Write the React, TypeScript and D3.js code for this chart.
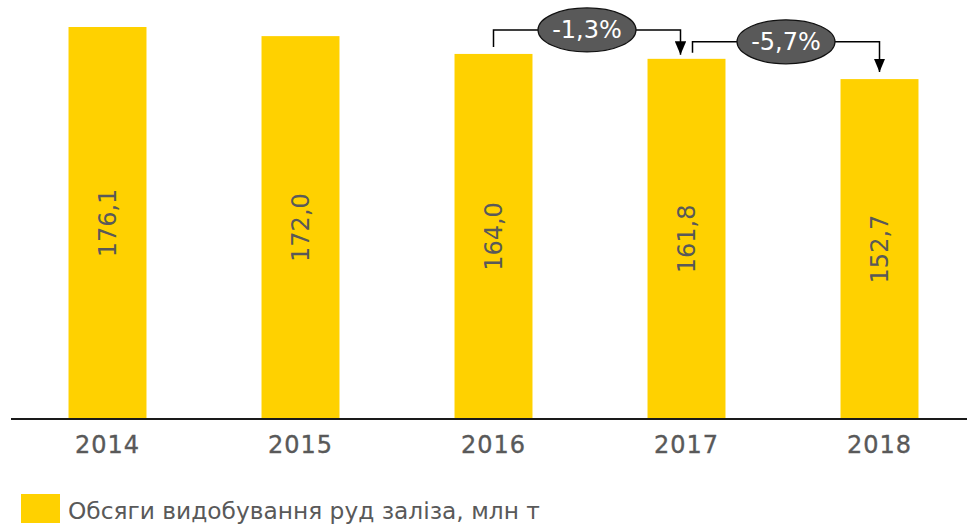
import React from 'react';
import * as d3 from 'd3';

// Обсяги видобування руд заліза, млн т
const years = ['2014', '2015', '2016', '2017', '2018'];
const volumes = [176.1, 172.0, 164.0, 161.8, 152.7];
const changes = [
  { from: '2016', to: '2017', label: '-1,3%' },
  { from: '2017', to: '2018', label: '-5,7%' },
];
const legendLabel = 'Обсяги видобування руд заліза, млн т';

const W = 967;
const H = 525;
const baseY = 419;
const FONT = '"DejaVu Sans", Verdana, sans-serif';
const GREY = '#595959';
const YELLOW = '#FFD100';

const fmt = (v: number) => v.toFixed(1).replace('.', ',');

export default function App() {
  const x = d3.scaleBand<string>().domain(years).range([11, 976]).paddingInner(0.596).paddingOuter(0.298);
  const y = d3.scaleLinear().domain([0, 176.1]).range([baseY, 27]);
  const cx = (yr: string) => (x(yr) ?? 0) + x.bandwidth() / 2;
  const val = (yr: string) => volumes[years.indexOf(yr)];

  // placement tweaks for the change callouts
  const lineLift = [24, 17];
  const startGap = [7, 6];
  const endGap = [4, 7];
  const xShift = [[0, -6], [6, 0]];

  return (
    <svg width={W} height={H} style={{ position: 'absolute', left: 0, top: 0 }}>
      <defs>
        <marker id="arr" viewBox="0 0 10 12" refX="5" refY="12" markerWidth="7.5" markerHeight="9" orient="0">
          <path d="M0,0 L10,0 L5,12 Z" fill="#000" />
        </marker>
      </defs>
      {years.map((yr, i) => (
        <g key={yr}>
          <rect x={x(yr)} y={y(volumes[i])} width={x.bandwidth()} height={baseY - y(volumes[i])} fill={YELLOW} />
          <text
            transform={`translate(${cx(yr) + 8},${(y(volumes[i]) + baseY) / 2}) rotate(-90)`}
            textAnchor="middle"
            fontFamily={FONT}
            fontSize={24}
            fill={GREY}
          >
            {fmt(volumes[i])}
          </text>
          <text
            x={cx(yr)}
            y={453}
            textAnchor="middle"
            fontFamily={FONT}
            fontSize={24}
            fill={GREY}
            stroke={GREY}
            strokeWidth={0.35}
            letterSpacing={1}
          >
            {yr}
          </text>
        </g>
      ))}
      <line x1={11} x2={W} y1={baseY} y2={baseY} stroke="#1a1a1a" strokeWidth={2} />

      {changes.map((c, i) => {
        const x1 = cx(c.from) + xShift[i][0];
        const x2 = cx(c.to) + xShift[i][1];
        const y1 = y(val(c.from));
        const y2 = y(val(c.to));
        const ly = y1 - lineLift[i];
        const mx = (x1 + x2) / 2;
        return (
          <g key={c.label}>
            <path d={`M${x1},${y1 - startGap[i]} V${ly} H${x2} V${y2 - endGap[i]}`} fill="none" stroke="#000" strokeWidth={1.5} markerEnd="url(#arr)" />
            <ellipse cx={mx} cy={ly} rx={49} ry={22} fill="#595959" stroke="#111" strokeWidth={1.2} />
            <text x={mx} y={ly + 8.5} textAnchor="middle" fontFamily={FONT} fontSize={24} fill="#fff">
              {c.label}
            </text>
          </g>
        );
      })}

      <rect x={21} y={494} width={39} height={29} fill={YELLOW} />
      <text x={68} y={519} fontFamily={FONT} fontSize={23.3} fill={GREY}>
        {legendLabel}
      </text>
    </svg>
  );
}
